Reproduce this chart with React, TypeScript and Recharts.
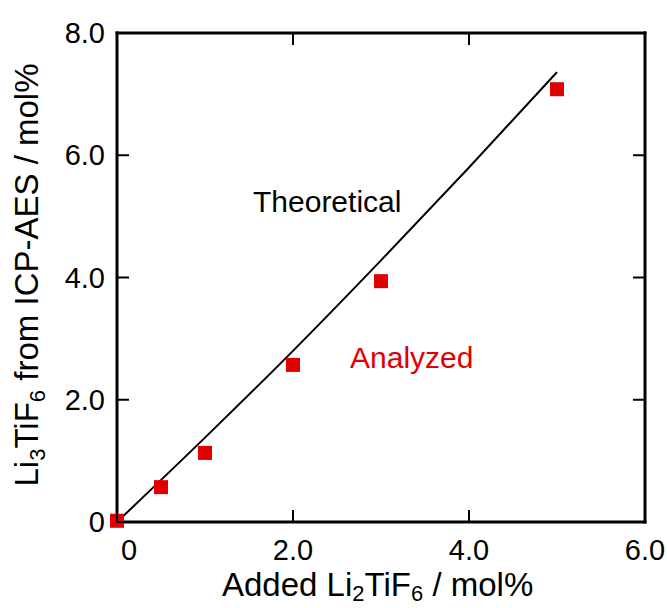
import { ComposedChart, Line, Scatter, XAxis, YAxis } from "recharts";

const addedLi2TiF6 = [0, 0.5, 1.0, 2.0, 3.0, 5.0];
const analyzedLi3TiF6 = [0.02, 0.57, 1.13, 2.57, 3.94, 7.08];

const theoreticalX = [0, 1, 2, 3, 4, 5];
const theoreticalY = [0, 1.38, 2.8, 4.28, 5.8, 7.36];

const xTicks = [0, 2, 4, 6];
const yTicks = [0, 2, 4, 6, 8];

const analyzed = addedLi2TiF6.map((x, i) => ({ x, y: analyzedLi3TiF6[i] }));
const theoretical = theoreticalX.map((x, i) => ({ x, y: theoreticalY[i] }));

const FONT = "'Liberation Sans', Arial, sans-serif";
const RED = "#e00000";
const TICK_LEN = 12;

const fmt = (v: number) => (v === 0 ? "0" : v.toFixed(1));

const BottomTick = ({ x, y, payload }: any) => (
  <g>
    <line x1={x} y1={y} x2={x} y2={y - TICK_LEN} stroke="#000" strokeWidth={2} />
    <text
      x={x + (payload.value === 0 ? 12 : 0)}
      y={y + 38}
      textAnchor="middle"
      fontFamily={FONT}
      fontSize={29}
      fill="#000"
    >
      {fmt(payload.value)}
    </text>
  </g>
);

const TopTick = ({ x, y }: any) => (
  <line x1={x} y1={y} x2={x} y2={y + TICK_LEN} stroke="#000" strokeWidth={2} />
);

const LeftTick = ({ x, y, payload }: any) => (
  <g>
    <line x1={x} y1={y} x2={x + TICK_LEN} y2={y} stroke="#000" strokeWidth={2} />
    <text
      x={x - 12}
      y={y + 10}
      textAnchor="end"
      fontFamily={FONT}
      fontSize={29}
      fill="#000"
    >
      {fmt(payload.value)}
    </text>
  </g>
);

const RightTick = ({ x, y }: any) => (
  <line x1={x} y1={y} x2={x - TICK_LEN} y2={y} stroke="#000" strokeWidth={2} />
);

const Square = ({ cx, cy }: any) => (
  <rect x={cx - 7} y={cy - 7} width={14} height={14} fill={RED} />
);

const axisLine = { stroke: "#000", strokeWidth: 3, strokeLinecap: "square" as const };

export default function App() {
  return (
    <div style={{ position: "absolute", left: 0, top: 0, width: 667, height: 608, background: "#fff" }}>
      <ComposedChart
        width={667}
        height={608}
        margin={{ top: 32, right: 21, bottom: 0, left: 0 }}
      >
        <XAxis
          dataKey="x"
          type="number"
          domain={[0, 6]}
          ticks={xTicks}
          height={86}
          axisLine={axisLine}
          tickLine={false}
          tickSize={0}
          tickMargin={0}
          tick={<BottomTick />}
        />
        <XAxis
          xAxisId="top"
          dataKey="x"
          orientation="top"
          type="number"
          domain={[0, 6]}
          ticks={xTicks}
          height={1}
          axisLine={axisLine}
          tickLine={false}
          tickSize={0}
          tickMargin={0}
          tick={<TopTick />}
        />
        <YAxis
          dataKey="y"
          type="number"
          domain={[0, 8]}
          ticks={yTicks}
          width={117}
          axisLine={axisLine}
          tickLine={false}
          tickSize={0}
          tickMargin={0}
          tick={<LeftTick />}
        />
        <YAxis
          yAxisId="right"
          dataKey="y"
          orientation="right"
          type="number"
          domain={[0, 8]}
          ticks={yTicks}
          width={1}
          axisLine={axisLine}
          tickLine={false}
          tickSize={0}
          tickMargin={0}
          tick={<RightTick />}
        />
        <Line
          data={theoretical}
          xAxisId="top"
          yAxisId="right"
          dataKey="y"
          type="monotone"
          stroke="#000"
          strokeWidth={2}
          dot={false}
          activeDot={false}
          isAnimationActive={false}
        />
        <Scatter
          data={analyzed}
          dataKey="y"
          fill={RED}
          shape={<Square />}
          isAnimationActive={false}
        />
      </ComposedChart>
      <svg
        width={667}
        height={608}
        style={{ position: "absolute", left: 0, top: 0, pointerEvents: "none" }}
      >
        <text x={253} y={212} fontFamily={FONT} fontSize={30} fill="#000">
          Theoretical
        </text>
        <text x={350} y={368} fontFamily={FONT} fontSize={30} fill={RED}>
          Analyzed
        </text>
        <text x={222} y={596} fontFamily={FONT} fontSize={33} fill="#000">
          Added Li
          <tspan fontSize={22} dy={5}>2</tspan>
          <tspan dy={-5}>TiF</tspan>
          <tspan fontSize={22} dy={5}>6</tspan>
          <tspan dy={-5}> / mol%</tspan>
        </text>
        <text
          transform="translate(38, 275) rotate(-90)"
          x={0}
          y={0}
          textAnchor="middle"
          fontFamily={FONT}
          fontSize={33}
          fill="#000"
        >
          Li
          <tspan fontSize={22} dy={7}>3</tspan>
          <tspan dy={-7}>TiF</tspan>
          <tspan fontSize={22} dy={7}>6</tspan>
          <tspan dy={-7}> from ICP-AES / mol%</tspan>
        </text>
      </svg>
    </div>
  );
}
